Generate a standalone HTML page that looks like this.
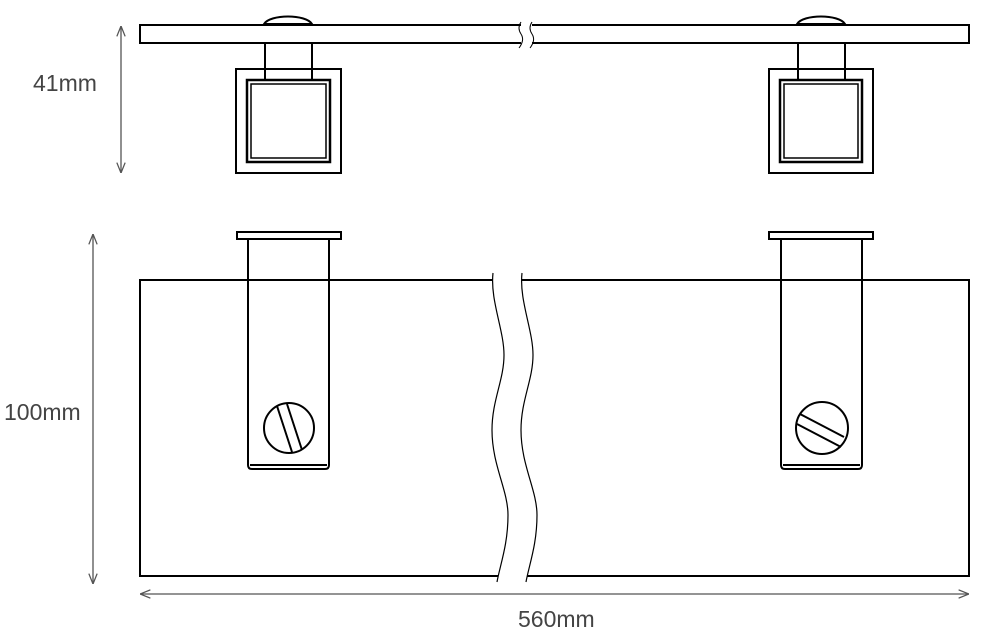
<!DOCTYPE html>
<html><head><style>
html,body{margin:0;padding:0;background:#fff;}
svg{display:block;}
text{font-family:"Liberation Sans",sans-serif;font-size:23px;fill:#444;}
</style></head><body>
<svg width="1000" height="640" viewBox="0 0 1000 640" xmlns="http://www.w3.org/2000/svg">
<defs>
<marker id="a" viewBox="0 0 10 10" refX="10" refY="5" markerWidth="8" markerHeight="8" orient="auto-start-reverse"><path d="M0,1 L10,5 L0,9" fill="none" stroke="#555" stroke-width="1.2"/></marker>
</defs>
<g fill="none" stroke="#000" stroke-width="2">
<path d="M521,25 H140 V43 H521 M532,25 H969 V43 H532"/>
<path d="M521,22 q-4,6 0,12 q4,6 -2,14 M532,22 q-4,6 0,12 q4,6 -2,14" stroke-width="1"/>
<path d="M264,24 C270,14 306,14 312,24 Z" stroke-width="2"/>
<path d="M797,24 C803,14 839,14 845,24 Z" stroke-width="2"/>
<path d="M265,43 V80 M312,43 V80"/>
<rect x="236" y="69" width="105" height="104"/>
<rect x="247" y="80" width="83" height="82" stroke-width="2.5"/>
<rect x="251" y="84" width="75" height="74" stroke-width="1.5"/>
<path d="M798,43 V80 M845,43 V80"/>
<rect x="769" y="69" width="104" height="104"/>
<rect x="780" y="80" width="82" height="82" stroke-width="2.5"/>
<rect x="784" y="84" width="74" height="74" stroke-width="1.5"/>
<path d="M493,280 H140 V576 H498 M521,280 H969 V576 H527"/>
<path d="M493,273 C490,300 504,330 504,355 C504,380 492,400 492,430 C492,465 508,490 508,515 C508,545 500,565 497,582" stroke-width="1.2"/>
<path d="M522,273 C519,300 533,330 533,355 C533,380 521,400 521,430 C521,465 537,490 537,515 C537,545 529,565 526,582" stroke-width="1.2"/>
<rect x="237" y="232" width="104" height="7"/>
<path d="M248,239 V465 M329,239 V465 M248,465 Q248,469 252,469 H325 Q329,469 329,465 M250,465 H327" />
<circle cx="289" cy="428" r="25"/>
<path d="M277,406 L292,452 M287,404 L302,450" stroke-width="2"/>
<rect x="769" y="232" width="104" height="7"/>
<path d="M781,239 V465 M862,239 V465 M781,465 Q781,469 785,469 H858 Q862,469 862,465 M783,465 H860"/>
<circle cx="822" cy="428" r="26"/>
<path d="M800,414 L844,437 M797,424 L841,447" stroke-width="2"/>
</g>
<g stroke="#555" stroke-width="1.3" fill="none">
<line x1="121" y1="26" x2="121" y2="173" marker-start="url(#a)" marker-end="url(#a)"/>
<line x1="93" y1="234" x2="93" y2="584" marker-start="url(#a)" marker-end="url(#a)"/>
<line x1="140" y1="594" x2="969" y2="594" marker-start="url(#a)" marker-end="url(#a)"/>
</g>
<text x="33" y="91">41mm</text>
<text x="4" y="420">100mm</text>
<text x="518" y="627">560mm</text>
</svg>
</body></html>
